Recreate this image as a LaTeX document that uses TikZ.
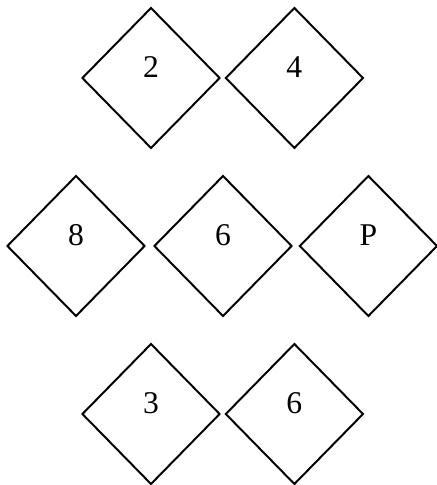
\documentclass[tikz,border=0pt]{standalone}
\usepackage{fontspec}
\setmainfont{Liberation Serif}
\usetikzlibrary{shapes.geometric}
\begin{document}
\begin{tikzpicture}[line width=1.4pt, line join=miter,
  rombo/.style={draw, shape=diamond, minimum width=3.45cm, minimum height=3.52cm, inner sep=0pt},
  cifra/.style={anchor=base, font=\fontsize{22.5}{27}\selectfont}]
  \useasboundingbox (0,0) rectangle (10.925,12.125);
  % la fila de arriba
  \node[rombo] (a1) at (3.775,10.175) {};
  \node[rombo] (a2) at (7.36,10.175) {};
  \node[cifra] (ta1) at (a1.center) {2};
  \node[cifra] (ta2) at (a2.center) {4};
  % la fila del medio, con la P
  \node[rombo] (b1) at (1.9,5.975) {};
  \node[rombo] (b2) at (5.575,5.975) {};
  \node[rombo] (b3) at (9.21,5.975) {};
  \node[cifra] (tb1) at (b1.center) {8};
  \node[cifra] (tb2) at (b2.center) {6};
  \node[cifra] (tb3) at (b3.center) {P};
  % la fila de abajo
  \node[rombo] (c1) at (3.775,1.775) {};
  \node[rombo] (c2) at (7.36,1.775) {};
  \node[cifra] (tc1) at (c1.center) {3};
  \node[cifra] (tc2) at (c2.center) {6};
\end{tikzpicture}
\end{document}
